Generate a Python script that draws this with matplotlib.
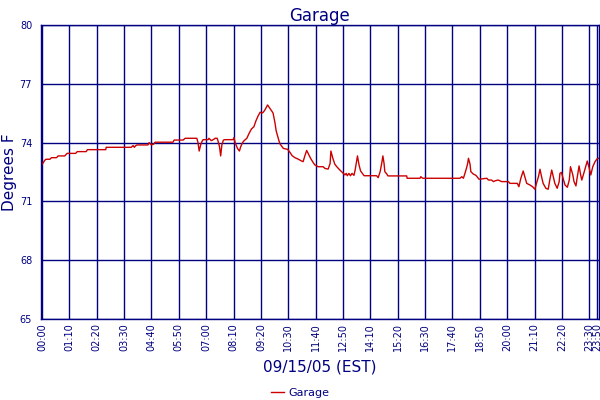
import matplotlib
matplotlib.use("Agg")
import matplotlib.pyplot as plt

# --- Données (minutes sur l'axe d'échantillons, degrés F) ---
tick_labels = ["00:00", "01:10", "02:20", "03:30", "04:40", "05:50", "07:00",
               "08:10", "09:20", "10:30", "11:40", "12:50", "14:10", "15:20",
               "16:30", "17:40", "18:50", "20:00", "21:10", "22:20", "23:30",
               "23:50"]
tick_pos = [i * 70 for i in range(21)] + [1420]

t = [0, 3, 7, 10, 20, 24, 37, 41, 58, 64, 86, 90, 113, 116, 163, 164, 228,
     233, 236, 240, 243, 271, 274, 280, 286, 289, 335, 338, 361, 366, 396,
     399, 402, 406, 409, 412, 425, 427, 433, 438, 443, 448, 450, 454, 457,
     460, 464, 468, 489, 491, 494, 500, 505, 508, 513, 517, 524, 528, 532,
     536, 542, 547, 553, 558, 563, 566, 570, 577, 583, 588, 591, 596, 599,
     602, 606, 609, 617, 622, 628, 634, 640, 647, 656, 664, 668, 672, 677,
     682, 687, 694, 698, 706, 719, 724, 732, 737, 739, 744, 749, 754, 762,
     771, 775, 778, 781, 785, 789, 793, 798, 801, 807, 811, 815, 824, 856,
     860, 865, 869, 872, 875, 877, 882, 885, 933, 934, 967, 969, 974, 1069,
     1074, 1078, 1082, 1086, 1089, 1091, 1095, 1097, 1103, 1110, 1113, 1118,
     1138, 1142, 1150, 1155, 1159, 1167, 1176, 1193, 1197, 1216, 1220, 1225,
     1229, 1231, 1236, 1240, 1248, 1255, 1261, 1265, 1270, 1274, 1278, 1282,
     1289, 1295, 1299, 1304, 1308, 1312, 1318, 1323, 1325, 1329, 1333, 1338,
     1344, 1349, 1352, 1358, 1361, 1366, 1369, 1374, 1378, 1381, 1386, 1392,
     1395, 1400, 1404, 1409, 1415, 1420, 1425]

temp = [72.89, 72.97, 73.10, 73.15, 73.15, 73.23, 73.23, 73.32, 73.32, 73.45,
        73.45, 73.54, 73.54, 73.64, 73.64, 73.76, 73.76, 73.85, 73.76, 73.85,
        73.88, 73.88, 74.00, 73.88, 73.93, 74.02, 74.02, 74.13, 74.13, 74.22,
        74.22, 74.00, 73.57, 73.90, 74.05, 74.15, 74.15, 74.22, 74.10, 74.15,
        74.22, 74.22, 74.10, 73.79, 73.32, 73.88, 74.13, 74.15, 74.15, 74.25,
        74.00, 73.70, 73.57, 73.78, 74.00, 74.10, 74.22, 74.40, 74.56, 74.70,
        74.81, 75.10, 75.37, 75.55, 75.51, 75.55, 75.66, 75.92, 75.75, 75.60,
        75.51, 75.00, 74.60, 74.39, 74.10, 73.93, 73.71, 73.68, 73.66, 73.51,
        73.33, 73.23, 73.15, 73.06, 73.03, 73.30, 73.60, 73.40, 73.20, 72.97,
        72.86, 72.77, 72.77, 72.68, 72.65, 72.94, 73.57, 73.20, 72.90, 72.77,
        72.60, 72.43, 72.35, 72.43, 72.31, 72.43, 72.31, 72.43, 72.33, 72.60,
        73.32, 72.86, 72.55, 72.31, 72.31, 72.21, 72.52, 72.94, 73.32, 72.94,
        72.52, 72.40, 72.30, 72.30, 72.18, 72.18, 72.26, 72.18, 72.18, 72.26,
        72.18, 72.43, 72.70, 72.94, 73.20, 72.90, 72.52, 72.40, 72.33, 72.26,
        72.13, 72.18, 72.09, 72.09, 72.01, 72.05, 72.09, 72.01, 72.01, 71.92,
        71.92, 71.75, 72.18, 72.43, 72.55, 72.20, 71.92, 71.84, 71.75, 71.62,
        71.92, 72.26, 72.64, 72.26, 71.92, 71.67, 71.62, 72.09, 72.60, 72.26,
        71.92, 71.67, 72.00, 72.43, 72.48, 72.18, 71.84, 71.72, 72.10, 72.77,
        72.35, 72.01, 71.79, 72.20, 72.81, 72.35, 72.09, 72.43, 72.86, 73.06,
        72.69, 72.35, 72.77, 73.03, 73.17, 73.20]

y_ticks = [65, 68, 71, 74, 77, 80]

navy = "#000080"
red = "#CC0000"

# --- Tracé ---
fig = plt.figure(figsize=(6, 4), dpi=100)
ax = fig.add_axes([0.0675, 0.2025, 0.9315, 0.735])

ax.plot(t, temp, color=red, lw=1, label="Garage")

ax.set_xlim(-4, 1426)
ax.set_ylim(65, 80)
ax.set_xticks(tick_pos)
ax.set_xticklabels(tick_labels, rotation=90)
ax.set_yticks(y_ticks)
ax.tick_params(axis="both", length=0, colors=navy, labelsize=7)
ax.tick_params(axis="x", pad=3)
ax.tick_params(axis="y", pad=6)
ax.grid(True, color=navy, lw=1)
ax.set_axisbelow(True)
for s in ax.spines.values():
    s.set_color(navy)
    s.set_linewidth(1)

ax.set_title("Garage", color=navy, fontsize=12, pad=3)
ax.set_ylabel("Degrees F", color=navy, fontsize=11, labelpad=2)
ax.set_xlabel("09/15/05 (EST)", color=navy, fontsize=11, labelpad=6)

leg = fig.legend(loc="lower center", bbox_to_anchor=(0.5, -0.02), frameon=False,
                 fontsize=8, handlelength=1.2, handletextpad=0.4)
for txt in leg.get_texts():
    txt.set_color(navy)

fig.savefig("out.png", dpi=100)
